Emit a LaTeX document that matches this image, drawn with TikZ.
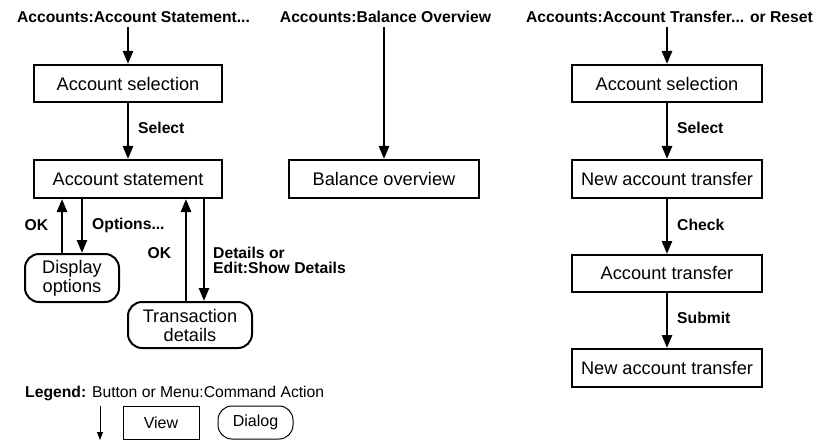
\documentclass[tikz,border=0pt]{standalone}
\usepackage{fontspec}
\setmainfont{Liberation Sans}
\usetikzlibrary{arrows.meta}
\begin{document}
\begin{tikzpicture}[x=1pt,y=-1pt,
  view/.style={draw, line width=2pt, minimum height=37pt, inner sep=0pt, font=\fontsize{18.2}{20}\selectfont},
  dlg/.style={draw, line width=2pt, rounded corners=14pt, inner sep=0pt, align=center, font=\fontsize{18.2}{19}\selectfont},
  lbl/.style={inner sep=0pt, font=\fontsize{15.7}{15}\selectfont\bfseries},
  ttl/.style={inner xsep=0pt, inner ysep=4.5pt, font=\fontsize{15.7}{15}\selectfont\bfseries},
  flow/.style={line width=2.5pt, -{Triangle[length=13pt,width=10pt]}},
  lview/.style={draw, line width=1pt, minimum height=33pt, inner sep=0pt, font=\fontsize{16}{18}\selectfont},
]
\useasboundingbox (0,0) rectangle (817,441);

% ---------- left column ----------
\node[ttl] (t1) at (133.5,17) {Accounts:Account Statement...};
\node[view, minimum width=188pt] (as1) at (128,83.5) {Account selection};
\node[view, minimum width=188pt, minimum height=38pt] (st) at (128,179) {Account statement};
\node[dlg, minimum width=94pt, minimum height=48pt] (disp) at (72,278) {Display\\options};
\node[dlg, minimum width=124pt, minimum height=46pt] (trans) at (190,325) {Transaction\\details};

\draw[flow] (t1.south -| as1.north) -- (as1.north);
\draw[flow] (as1.south) -- (st.north);
\node[lbl, anchor=west] (sel1) at (138,128) {Select};

\draw[flow] ([xshift=-10pt]disp.north) -- ([xshift=-10pt]disp.north |- st.south);
\draw[flow] ([xshift=10pt]disp.north |- st.south) -- ([xshift=10pt]disp.north);
\node[lbl] (ok1) at (36.5,225) {OK};
\node[lbl, anchor=west] (opt) at (92,225) {Options...};

\draw[flow] ([xshift=-4pt]trans.north) -- ([xshift=-4pt]trans.north |- st.south);
\draw[flow] ([xshift=14pt]trans.north |- st.south) -- ([xshift=14pt]trans.north);
\node[lbl] (ok2) at (159.5,253) {OK};
\node[lbl, anchor=west] (det1) at (213,253) {Details or};
\node[lbl, anchor=west] (det2) at (213,268) {Edit:Show Details};

% ---------- middle column ----------
\node[ttl] (t2) at (385.5,17) {Accounts:Balance Overview};
\node[view, minimum width=190pt, minimum height=38pt] (bal) at (384,179) {Balance overview};
\draw[flow] (t2.south -| bal.north) -- (bal.north);

% ---------- right column ----------
\node[ttl] (t3) at (669.5,17) {Accounts:Account Transfer... or Reset};
\node[view, minimum width=190pt] (as2) at (667,83.5) {Account selection};
\node[view, minimum width=190pt, minimum height=38pt] (nat1) at (667,179) {New account transfer};
\node[view, minimum width=190pt] (at) at (667,273.5) {Account transfer};
\node[view, minimum width=190pt, minimum height=38pt] (nat2) at (667,368) {New account transfer};

\draw[flow] (t3.south -| as2.north) -- (as2.north);
\draw[flow] (as2.south) -- (nat1.north);
\draw[flow] (nat1.south) -- (at.north);
\draw[flow] (at.south) -- (nat2.north);
\node[lbl, anchor=west] (sel2) at (677,128) {Select};
\node[lbl, anchor=west] (chk) at (677,225) {Check};
\node[lbl, anchor=west] (sub) at (677,318) {Submit};

% ---------- legend ----------
\node[inner sep=0pt, anchor=west, font=\fontsize{15.7}{15}\selectfont] (leg) at (25,393) {\textbf{Legend:} Button or Menu:Command Action};
\coordinate (la1) at (100,406);
\coordinate (la2) at (100,440);
\draw[line width=1pt, -{Triangle[length=8pt,width=6pt]}] (la1) -- (la2);
\node[lview, minimum width=76pt] (lv) at (161,422.5) {View};
\node[lview, rounded corners=14pt, minimum width=75pt] (ld) at (255.5,422.5) {Dialog};
\end{tikzpicture}
\end{document}
